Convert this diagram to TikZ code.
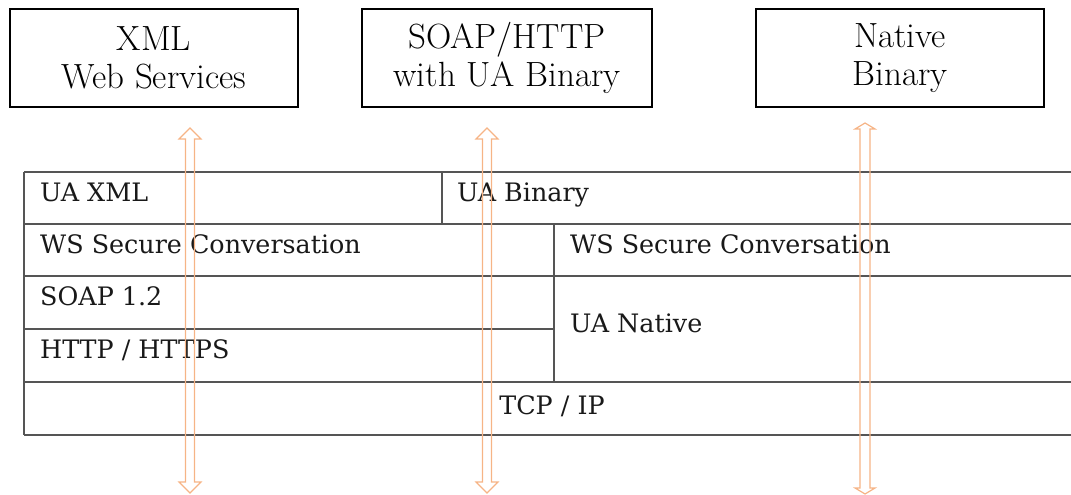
\documentclass[tikz,border=0pt]{standalone}
\usepackage{fontspec}
\usetikzlibrary{calc}
\newfontfamily\tabfont{DejaVu Serif}
\definecolor{gridgray}{RGB}{85,85,85}
\definecolor{arroworange}{RGB}{246,180,134}
\tikzset{
  topbox/.style={draw=black, line width=1.8pt, minimum width=288pt, minimum height=98pt,
    align=center, inner sep=0pt, font=\fontsize{35}{38}\selectfont},
  grid/.style={draw=gridgray, line width=1.6pt},
  celltext/.style={anchor=base west, inner sep=0pt, font=\tabfont\fontsize{25.4}{30}\selectfont, text=black!90},
  flowline/.style={draw=arroworange, line width=1.2pt, line join=miter}
}
% hollow two-headed arrow: #1 top tip, #2 bottom tip, #3 half shaft width,
% #4 half head width, #5 head length
\newcommand\dataflow[5]{%
  \draw[flowline] (#1) -- ($(#1)+(#4,#5)$) -- ($(#1)+(#3,#5)$) -- ($(#2)+(#3,-#5)$)
    -- ($(#2)+(#4,-#5)$) -- (#2) -- ($(#2)+(-#4,-#5)$) -- ($(#2)+(-#3,-#5)$)
    -- ($(#1)+(-#3,#5)$) -- ($(#1)+(-#4,#5)$) -- cycle;}
\begin{document}
\begin{tikzpicture}[x=1pt, y=-1pt]
\useasboundingbox (0,0) rectangle (1071,495);

% transport profiles
\node[topbox] (xmlws) at (154,58) {XML\\Web Services};
\node[topbox, minimum width=290pt] (soap) at (507,58) {SOAP/HTTP\\with UA Binary};
\node[topbox] (native) at (900,58) {Native\\Binary};

% protocol stack grid
\draw[grid] (24,172) -- (1071,172);
\draw[grid] (24,224) -- (1071,224);
\draw[grid] (24,276) -- (1071,276);
\draw[grid] (24,329) -- (554,329);
\draw[grid] (24,382) -- (1071,382);
\draw[grid] (24,435) -- (1071,435);
\draw[grid] (24,172) -- (24,435);
\draw[grid] (442,172) -- (442,224);
\draw[grid] (554,224) -- (554,382);

% layer labels
\node[celltext] (uaxml) at (40,201) {UA XML};
\node[celltext] (uabin) at (457,201) {UA Binary};
\node[celltext] (wsleft) at (40,253) {WS Secure Conversation};
\node[celltext] (wsright) at (570,253) {WS Secure Conversation};
\node[celltext] (soap12) at (40,305) {SOAP 1.2};
\node[celltext] (http) at (40,358) {HTTP / HTTPS};
\node[celltext] (uanative) at (570,332) {UA Native};
\node[celltext, anchor=base] (tcpip) at (552,414) {TCP / IP};

% vertical data paths through the stack
\coordinate (p1top) at (190,128);
\coordinate (p1bot) at (190,493);
\coordinate (p2top) at (487,128);
\coordinate (p2bot) at (487,493);
\coordinate (p3top) at (865,123);
\coordinate (p3bot) at (865,494);
\dataflow{p1top}{p1bot}{4.5}{11}{11}
\dataflow{p2top}{p2bot}{4.5}{11}{11}
\dataflow{p3top}{p3bot}{5}{10}{6}
\end{tikzpicture}
\end{document}
